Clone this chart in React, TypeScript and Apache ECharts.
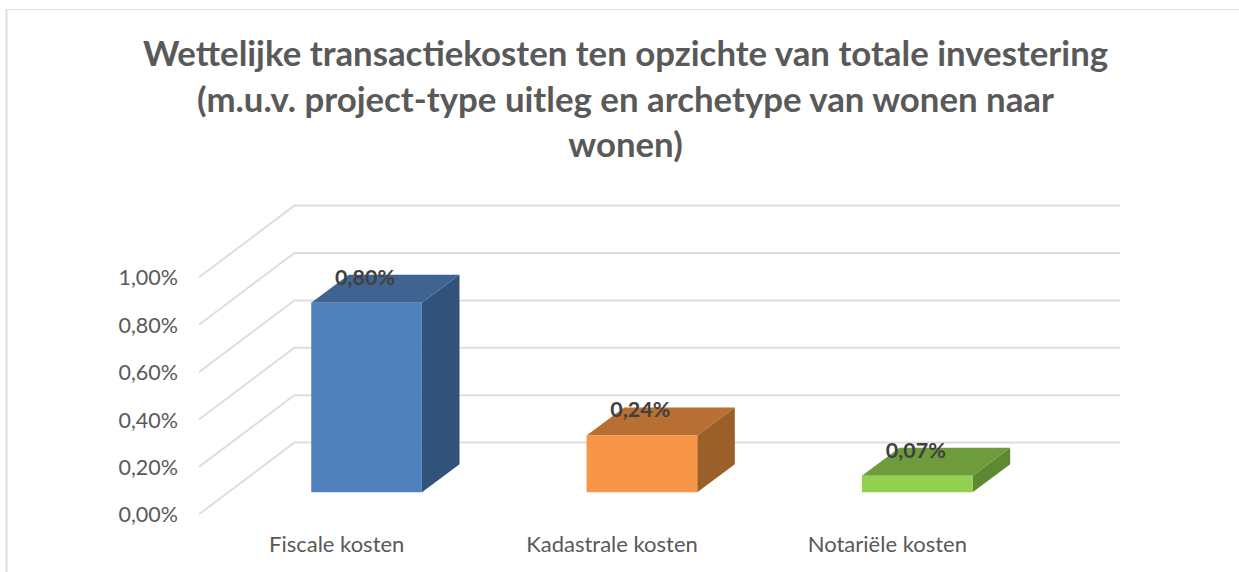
import React, { useEffect, useRef } from "react";
import * as echarts from "echarts";

const titleLines = [
  "Wettelijke transactiekosten ten opzichte van totale investering",
  "(m.u.v. project-type uitleg en archetype van wonen naar",
  "wonen)",
];
const categories = ["Fiscale kosten", "Kadastrale kosten", "Notariële kosten"];
const values = [0.8, 0.24, 0.07];
const gridValues = [0, 0.2, 0.4, 0.6, 0.8, 1];
const frontColors = ["#4f81bd", "#f79646", "#92d050"];
const topColors = ["#3f6491", "#b86f33", "#6e9c3c"];
const sideColors = ["#315279", "#9b5f2a", "#5d8a30"];

const GRID_LINE = "#dedede";
const WALL_DX = 95.3;
const WALL_DY = -71.7;
const BAR_OFFSET_X = 29.9;
const BAR_OFFSET_Y = -22;
const BAR_DX = 37.6;
const BAR_DY = -28;
const fmt = (v: number) => v.toFixed(2).replace(".", ",") + "%";

export default function App() {
  const ref = useRef<HTMLDivElement>(null);
  useEffect(() => {
    const chart = echarts.init(ref.current!, null, { renderer: "svg" });
    chart.setOption({
      animation: false,
      backgroundColor: "#ffffff",
      textStyle: { fontFamily: "Lato" },
      title: {
        text: titleLines.join("\n"),
        left: 620.5,
        top: 25,
        textAlign: "center",
        textStyle: {
          fontFamily: "Lato",
          fontWeight: "bold",
          fontSize: 34.8,
          lineHeight: 45.5,
          color: "#595959",
        },
      },
      graphic: [
        { type: "line", shape: { x1: 6.5, y1: 9, x2: 6.5, y2: 572 }, style: { stroke: GRID_LINE, lineWidth: 2 } },
        { type: "line", shape: { x1: 6, y1: 9.5, x2: 1239, y2: 9.5 }, style: { stroke: GRID_LINE, lineWidth: 1.2 } },
      ],
      grid: { left: 199, top: 277.3, width: 826, height: 237 },
      xAxis: {
        type: "category",
        data: categories,
        axisLine: { show: false },
        axisTick: { show: false },
        axisLabel: { fontFamily: "Lato", fontSize: 22, color: "#595959", margin: 18 },
      },
      yAxis: {
        type: "value",
        min: 0,
        max: 1,
        interval: 0.2,
        axisLine: { show: false },
        axisTick: { show: false },
        splitLine: { show: false },
        axisLabel: {
          fontFamily: "Lato",
          fontSize: 21.5,
          color: "#595959",
          margin: 21,
          padding: [0, 0, 4, 0],
          formatter: (v: number) => fmt(v),
        },
      },
      series: [
        {
          type: "custom",
          silent: true,
          clip: false,
          z: 1,
          data: gridValues.map((v) => [0, v]),
          renderItem: (params: any, api: any) => {
            const sys = params.coordSys;
            const y = api.coord([0, api.value(1)])[1];
            return {
              type: "polyline",
              shape: {
                points: [
                  [sys.x, y],
                  [sys.x + WALL_DX, y + WALL_DY],
                  [sys.x + sys.width + WALL_DX, y + WALL_DY],
                ],
              },
              style: { stroke: GRID_LINE, lineWidth: 2, fill: "none" },
            };
          },
        },
        {
          type: "custom",
          silent: true,
          clip: false,
          z: 2,
          data: values.map((v, i) => [i, v]),
          renderItem: (params: any, api: any) => {
            const i = api.value(0);
            const val = api.value(1);
            const w = api.size([1, 0])[0] * 0.402;
            const [cx, topY] = api.coord([i, val]);
            const baseY = api.coord([i, 0])[1];
            const l = cx + BAR_OFFSET_X - w / 2;
            const r = l + w;
            const t = topY + BAR_OFFSET_Y;
            const b = baseY + BAR_OFFSET_Y;
            return {
              type: "group",
              children: [
                {
                  type: "polygon",
                  shape: { points: [[r, t], [r + BAR_DX, t + BAR_DY], [r + BAR_DX, b + BAR_DY], [r, b]] },
                  style: { fill: sideColors[i] },
                },
                {
                  type: "polygon",
                  shape: { points: [[l, t], [l + BAR_DX, t + BAR_DY], [r + BAR_DX, t + BAR_DY], [r, t]] },
                  style: { fill: topColors[i] },
                },
                {
                  type: "rect",
                  shape: { x: l, y: t, width: w, height: b - t },
                  style: { fill: frontColors[i] },
                },
                {
                  type: "text",
                  x: (l + r) / 2 - 1.5,
                  y: t - 26,
                  style: {
                    text: fmt(val),
                    fontFamily: "Lato",
                    fontWeight: "bold",
                    fontSize: 21.5,
                    fill: "#404040",
                    align: "center",
                    verticalAlign: "middle",
                  },
                },
              ],
            };
          },
        },
      ],
    });
    return () => chart.dispose();
  }, []);
  return <div ref={ref} style={{ position: "absolute", left: 0, top: 0, width: 1239, height: 572 }} />;
}
